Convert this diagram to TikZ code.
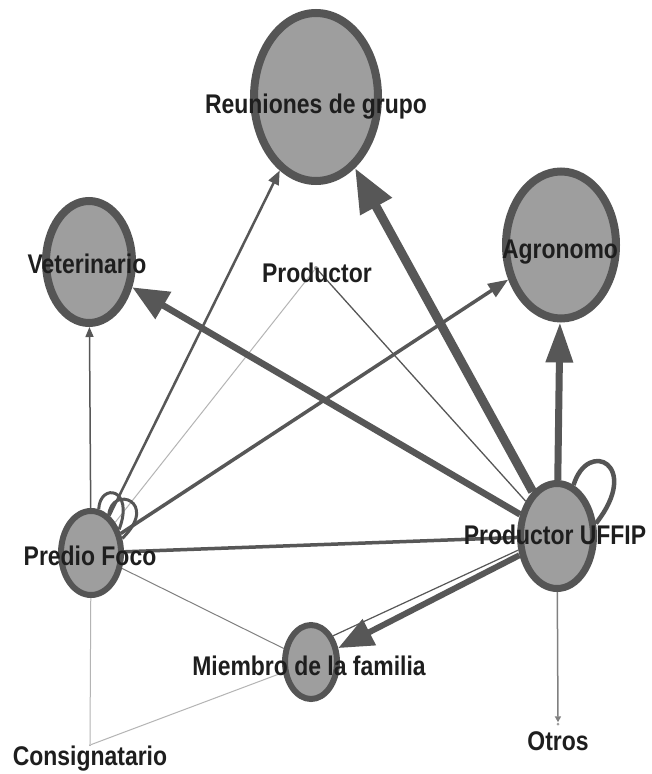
\documentclass[tikz,border=0pt]{standalone}
\usepackage{fontspec}
\setmainfont{Liberation Sans}[FakeStretch=0.85]
\usetikzlibrary{arrows.meta,shapes.geometric,backgrounds}
\definecolor{nfill}{HTML}{9E9E9E}
\definecolor{ndraw}{HTML}{555555}
\definecolor{edark}{HTML}{575757}
\definecolor{emid}{HTML}{808080}
\definecolor{elight}{HTML}{B4B4B4}
\definecolor{txt}{HTML}{1E1E1E}
\begin{document}
\begin{tikzpicture}[x=1pt,y=-1pt,
  vtx/.style={ellipse, draw=ndraw, fill=nfill, inner sep=0pt},
  bignode/.style={vtx, line width=8pt},
  smallnode/.style={vtx, line width=6pt},
  ptnode/.style={circle, fill=nfill, inner sep=0pt, minimum size=4pt},
  lbl/.style={anchor=base, inner sep=0pt, text=txt, font=\fontsize{27}{30}\selectfont\bfseries},
  edgeline/.style={draw=edark, line cap=butt},
  lightline/.style={draw=elight, line width=1pt},
  loopline/.style={draw=ndraw},
]
\useasboundingbox (0,0) rectangle (651,774);

% vertices
\node[bignode, minimum width=124pt, minimum height=168pt] (reu) at (316,97) {};
\node[bignode, minimum width=86pt, minimum height=122pt] (vet) at (89,262) {};
\node[bignode, minimum width=110pt, minimum height=147pt] (agr) at (561,245) {};
\node[smallnode, line width=7pt, minimum width=73pt, minimum height=105pt] (uff) at (557,536) {};
\node[smallnode, minimum width=60pt, minimum height=84pt] (pre) at (91,553) {};
\node[smallnode, minimum width=52pt, minimum height=74pt] (mie) at (311,662) {};
\node[ptnode] (pro) at (316,268) {};
\node[ptnode, minimum size=3pt] (otr) at (558,724) {};
\node[ptnode, minimum size=2pt] (con) at (90,745) {};

% labels
\node[lbl] (reu-t) at (316,113) {Reuniones de grupo};
\node[lbl] (vet-t) at (87,273) {Veterinario};
\node[lbl] (agr-t) at (560,258) {Agronomo};
\node[lbl] (pro-t) at (317,282) {Productor};
\node[lbl] (uff-t) at (555,544) {Productor UFFIP};
\node[lbl] (pre-t) at (90,565) {Predio Foco};
\node[lbl] (mie-t) at (309,675) {Miembro de la familia};
\node[lbl] (con-t) at (90,765) {Consignatario};
\node[lbl] (otr-t) at (558,750) {Otros};

\begin{scope}[on background layer]
\fill[white] (0,0) rectangle (651,774);
% light thin edges
\draw[lightline] (pre) -- (pro);
\draw[lightline] (pre) -- (con);
\draw[lightline] (mie) -- (con);
% thin edges
\draw[edgeline, line width=1pt, draw=emid] (pre) -- (mie);
\draw[edgeline, line width=1.3pt] (pro) -- (uff);
\draw[edgeline, line width=1.2pt] (mie.50) -- (uff.200);
\draw[edgeline, line width=1.5pt, draw=emid, -{Triangle[length=6pt,width=6pt]}] (uff) -- (otr);
\draw[edgeline, line width=1.5pt, -{Triangle[length=10pt,width=8pt]}] (pre) -- (vet);
% medium edges
\draw[edgeline, line width=2.5pt, -{Triangle[length=14pt,width=11pt]}] (pre) -- (reu);
\draw[edgeline, line width=3.5pt, -{Triangle[length=20pt,width=15pt]}] (pre) -- (agr);
\draw[edgeline, line width=3.5pt] (pre) -- (uff);
% thick edges
\draw[edgeline, line width=9pt, -{Triangle[length=44pt,width=34pt]}] (uff) -- (reu);
\draw[edgeline, line width=6.5pt, -{Triangle[length=36pt,width=30pt]}] (uff) -- (vet);
\draw[edgeline, line width=7pt, -{Triangle[length=40pt,width=26pt]}] (uff) -- (agr);
\draw[edgeline, line width=6pt, -{Triangle[length=35pt,width=28pt]}] (uff) -- (mie);
% self loops
\draw[loopline, line width=4.5pt] (uff.72) .. controls (588,438) and (642,465) .. (uff.18);
\draw[loopline, line width=3pt] (pre.80) .. controls (100,482) and (135,488) .. (pre.40);
\draw[loopline, line width=3pt] (pre.65) .. controls (112,484) and (160,502) .. (pre.25);
\end{scope}
\end{tikzpicture}
\end{document}
